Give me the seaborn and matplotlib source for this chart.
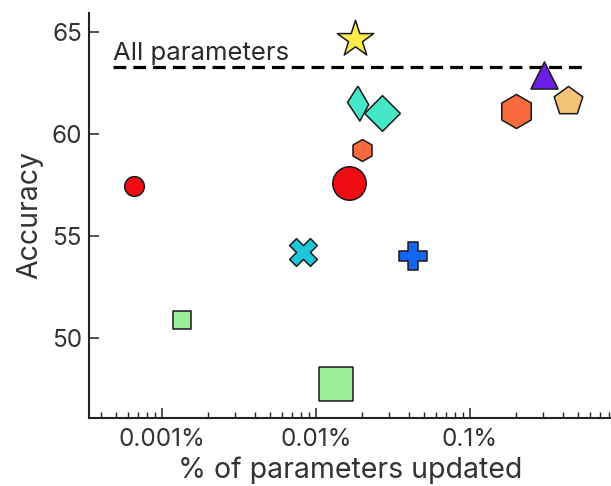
import matplotlib
matplotlib.use("Agg")
import matplotlib.pyplot as plt
import matplotlib.ticker as mticker
import matplotlib.transforms as mtransforms
import numpy as np
import pandas as pd
import seaborn as sns

# ---- data -------------------------------------------------------------
pct_updated = [6.6e-4, 1.355e-3, 8.27e-3, 0.01358, 0.01644, 0.0200,
               0.01783, 0.0187, 0.0270, 0.0428, 0.199, 0.303, 0.4305]
accuracy = [57.45, 50.87, 54.19, 47.70, 57.61, 59.22,
            64.67, 61.54, 61.02, 54.03, 61.15, 62.88, 61.62]
all_params_accuracy = 63.30
all_params_label = "All parameters"

x_ticks = [0.001, 0.01, 0.1]
x_tick_labels = ["0.001%", "0.01%", "0.1%"]
y_ticks = [50, 55, 60, 65]

# ---- styles -----------------------------------------------------------
# slanted thin diamond drawn as a custom vertex marker
thin_diamond = [(-0.6, 17.8), (10.4, -1.2), (1.4, -17.9), (-11.2, 1.1), (-0.6, 17.8)]

point_markers = ["o", "s", "X", "s", "o", "h", "*", thin_diamond, "D", "P", "h", "^", "p"]
point_colors = ["#EE0B12", "#9CEE98", "#1EC6DA", "#9CEE98", "#EE0B12", "#FA6A40",
                "#FCEB48", "#44E8C6", "#44E8C6", "#1466EE", "#FA6A40", "#6A1EE4", "#F2C276"]
point_sizes = [200, 180, 400, 580, 580, 250, 760, 640, 330, 400, 600, 380, 470]

sns.set_style("ticks")
plt.rcParams["font.family"] = ["Inter", "DejaVu Sans"]
plt.rcParams["text.color"] = "#2a2a2a"

fig = plt.figure(figsize=(6.11, 4.86), dpi=100)
ax = fig.add_axes([89 / 611, 1 - 418 / 486, 1 - 89 / 611, (418 - 13) / 486])

df = pd.DataFrame({"pct": pct_updated, "acc": accuracy})
for i in range(len(df)):
    sns.scatterplot(data=df.iloc[[i]], x="pct", y="acc", ax=ax,
                    marker=point_markers[i], s=point_sizes[i],
                    color=point_colors[i], edgecolor="#1a1a1a",
                    linewidth=1.1, zorder=3, legend=False)

ax.axhline(all_params_accuracy, xmin=0.046, xmax=0.946, color="black",
           linewidth=2.3, dashes=(4.0, 2.2), zorder=2)
trans = mtransforms.blended_transform_factory(ax.transAxes, ax.transData)
ax.text(0.046, all_params_accuracy + 0.33, all_params_label, transform=trans,
        fontsize=18.5, va="baseline", ha="left", color="#2a2a2a")

ax.set_xscale("log")
ax.set_xlim(10 ** -3.474, 10 ** -0.0844)
ax.set_ylim(46.05, 65.95)

ax.xaxis.set_major_locator(mticker.FixedLocator(x_ticks))
ax.xaxis.set_major_formatter(mticker.FixedFormatter(x_tick_labels))
ax.xaxis.set_minor_locator(mticker.LogLocator(base=10, subs=np.arange(2, 10)))
ax.xaxis.set_minor_formatter(mticker.NullFormatter())
ax.set_yticks(y_ticks)
ax.yaxis.set_minor_locator(mticker.NullLocator())

for side in ["top", "right"]:
    ax.spines[side].set_visible(False)
for side in ["left", "bottom"]:
    ax.spines[side].set_linewidth(1.5)
    ax.spines[side].set_color("#222222")

ax.tick_params(axis="both", which="major", direction="in", length=7.2,
               width=1.1, color="#222222", labelsize=17.5, labelcolor="#333333",
               bottom=True, left=True)
ax.tick_params(axis="x", which="minor", direction="in", length=4.0,
               width=1.0, color="#222222", bottom=True)
ax.tick_params(axis="x", which="major", pad=7)
ax.tick_params(axis="y", which="major", pad=5)

ax.set_xlabel("% of parameters updated", fontsize=20.5, color="#333333", labelpad=4)
ax.set_ylabel("Accuracy", fontsize=20.5, color="#333333", labelpad=6)

fig.savefig("out.png", dpi=100)
